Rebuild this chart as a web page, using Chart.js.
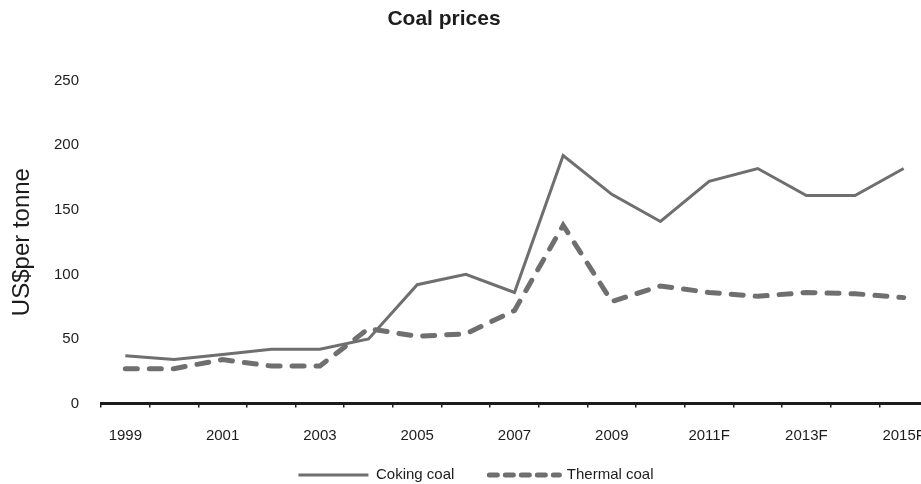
<!DOCTYPE html>
<html>
<head>
<meta charset="utf-8">
<title>Coal prices</title>
<script src="https://cdn.jsdelivr.net/npm/chart.js@4/dist/chart.umd.min.js"></script>
<style>
  html, body { margin: 0; padding: 0; overflow: hidden; background: #ffffff; }
  #wrap { position: absolute; left: 0; top: 0; width: 935px; height: 484px; }
</style>
</head>
<body>
<div id="wrap"><canvas id="chart" width="935" height="484"></canvas></div>
<script>
// Annual coal prices, US$ per tonne (F = forecast)
const years = ['1999', '2000', '2001', '2002', '2003', '2004', '2005', '2006', '2007', '2008',
               '2009', '2010', '2011F', '2012F', '2013F', '2014F', '2015F'];
const cokingCoal  = [37, 34, 38, 42, 42, 50, 92, 100, 86, 192, 162, 141, 172, 182, 161, 161, 182];
const thermalCoal = [27, 27, 34, 29, 29, 58, 52, 54, 72, 138, 79, 91, 86, 83, 86, 85, 82];
const seriesNames = ['Coking coal', 'Thermal coal'];
const yTicks = [0, 50, 100, 150, 200, 250];
const chartTitle = 'Coal prices';
const yAxisTitle = 'US$per tonne';

const FONT = '"Liberation Sans", Arial, Helvetica, sans-serif';
const INK = '#1c1c1c';
const LINE = '#6f6f6f';

// Heading drawn above the plot, slightly left of the canvas centre
const headingPlugin = {
  id: 'heading',
  afterDraw(chart) {
    const ctx = chart.ctx;
    ctx.save();
    ctx.font = 'bold 21px ' + FONT;
    ctx.fillStyle = INK;
    ctx.textAlign = 'center';
    ctx.textBaseline = 'middle';
    ctx.fillText(chartTitle, 444, 19);
    ctx.restore();
  }
};

new Chart(document.getElementById('chart'), {
  type: 'line',
  data: {
    labels: years,
    datasets: [
      {
        label: seriesNames[0],
        data: cokingCoal,
        borderColor: LINE,
        backgroundColor: LINE,
        borderWidth: 3,
        pointRadius: 0,
        tension: 0,
        borderJoinStyle: 'miter'
      },
      {
        label: seriesNames[1],
        data: thermalCoal,
        borderColor: LINE,
        backgroundColor: LINE,
        borderWidth: 5,
        borderDash: [12, 12],
        borderCapStyle: 'round',
        pointRadius: 0,
        tension: 0
      }
    ]
  },
  options: {
    responsive: false,
    animation: false,
    layout: { padding: { left: 24, right: 7, top: 80.7, bottom: -8.5 } },
    plugins: {
      title: { display: false },
      tooltip: { enabled: false },
      legend: {
        position: 'bottom',
        labels: {
          usePointStyle: true,
          pointStyle: 'line',
          pointStyleWidth: 70,
          padding: 35,
          color: INK,
          font: { family: FONT, size: 15 },
          generateLabels(chart) {
            const items = Chart.defaults.plugins.legend.labels.generateLabels(chart);
            items.forEach((it, i) => {
              const ds = chart.data.datasets[i];
              it.pointStyle = 'line';
              it.lineWidth = ds.borderWidth;
              it.lineCap = ds.borderCapStyle || 'butt';
              it.lineDash = ds.borderDash ? [8, 8] : [];
            });
            return items;
          }
        }
      }
    },
    scales: {
      x: {
        type: 'category',
        offset: true,
        afterFit(scale) {
          scale.height = 29;
          scale.paddingLeft = 0;
          scale.paddingRight = 0;
        },
        grid: {
          display: true,
          offset: true,
          drawOnChartArea: false,
          drawTicks: true,
          tickLength: 4,
          color: INK,
          lineWidth: 1.5
        },
        border: { display: true, color: INK, width: 3 },
        ticks: {
          autoSkip: false,
          maxRotation: 0,
          mirror: true,
          padding: -41,
          color: INK,
          font: { family: FONT, size: 15 },
          callback(value, index) { return index % 2 === 0 ? years[index] : ''; }
        }
      },
      y: {
        min: yTicks[0],
        max: yTicks[yTicks.length - 1],
        afterFit(scale) { scale.width = 77; },
        afterBuildTicks(scale) { scale.ticks = yTicks.map(v => ({ value: v })); },
        grid: { display: false, drawTicks: false },
        border: { display: false },
        ticks: {
          padding: 22,
          color: INK,
          font: { family: FONT, size: 15 }
        },
        title: {
          display: true,
          text: yAxisTitle,
          color: INK,
          font: { family: FONT, size: 24 },
          padding: { top: -16.5, bottom: 0 }
        }
      }
    }
  },
  plugins: [headingPlugin]
});
</script>
</body>
</html>
